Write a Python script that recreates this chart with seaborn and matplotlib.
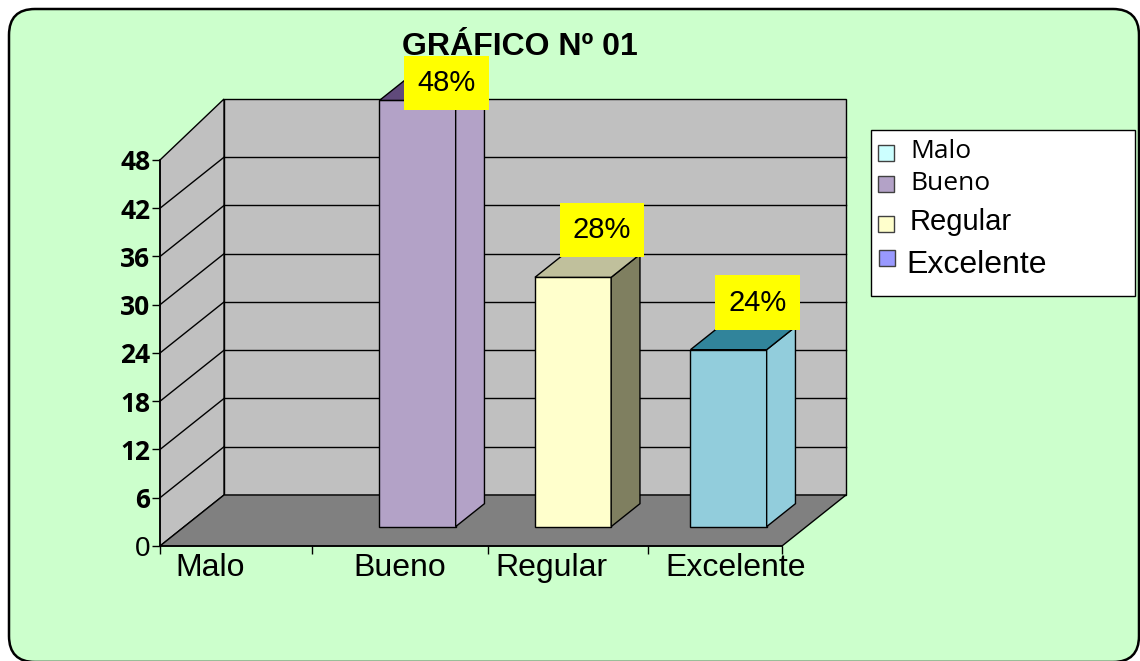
import matplotlib
matplotlib.use("Agg")
import matplotlib.pyplot as plt
import seaborn as sns
import pandas as pd
from matplotlib.patches import Polygon, Rectangle, FancyBboxPatch
from matplotlib.lines import Line2D

# ---------------- data ----------------
categories = ["Malo", "Bueno", "Regular", "Excelente"]
bar_values = [0, 53, 31, 22]          # drawn bar heights (axis units)
percent_labels = ["", "48%", "28%", "24%"]
y_ticks = [0, 6, 12, 18, 24, 30, 36, 42, 48]
legend_labels = ["Malo", "Bueno", "Regular", "Excelente"]
title_text = "GRÁFICO Nº 01"

# ---------------- style ----------------
front_colors = ["#ccffff", "#b3a2c7", "#ffffcc", "#92cddc"]
side_colors = ["#ccffff", "#b3a2c7", "#7f7f60", "#92cddc"]
top_colors = ["#ccffff", "#604a7b", "#c0c09c", "#31849b"]
legend_colors = ["#ccffff", "#b3a2c7", "#ffffcc", "#9999ff"]
legend_fonts = [("Open Sans", 19), ("Open Sans", 19), ("Liberation Sans", 21), ("Liberation Sans", 23)]
legend_baselines_px = [158, 190, 230, 273]
legend_text_x_px = [910, 910, 910, 906]
legend_square_px = [(878, 145), (878, 176), (878, 216), (879, 250)]   # top-left of squares
tick_bounds = [-0.5, 0.48, 1.61, 2.64, 3.5]      # category separator tick marks
label_pos = [-0.18, 1.04, 2.02, 3.2]             # category label centres

plt.rcParams["font.family"] = ["Liberation Sans", "DejaVu Sans"]

W, H = 1140, 661
fig = plt.figure(figsize=(W / 100, H / 100), dpi=100)
fig.patch.set_facecolor("white")

# rounded green background (pixel based, via inches transform)
bg = FancyBboxPatch((9 / 100, (H - 662) / 100), (1139 - 9) / 100, (662 - 9) / 100,
                    boxstyle="round,pad=0,rounding_size=0.26",
                    transform=fig.dpi_scale_trans, facecolor="#ccffcc",
                    edgecolor="black", linewidth=1.8, zorder=-5)
fig.patches.append(bg)

PX_X = 155.5     # px per category unit
PX_Y = 8.042     # px per value unit
ax = fig.add_axes([160 / W, (H - 546) / H, (782 - 160) / W, (546 - 50) / H])
ax.patch.set_alpha(0)

DX = 64 / PX_X       # full depth offset (data units)
DY = 51 / PX_Y
D0 = 0.38            # bar front depth fraction
T = 0.45             # bar thickness fraction
TOP = (546 - 99) / PX_Y   # top of back wall
X0, X1 = -0.5, 3.5

df = pd.DataFrame({"cat": categories, "val": bar_values})
sns.barplot(data=df, x="cat", y="val", hue="cat", palette=front_colors,
            width=0.49, saturation=1, legend=False, ax=ax,
            edgecolor="black", linewidth=1)
bars = list(ax.patches)

ax.set_xlim(X0, X1)
ax.set_ylim(0, (546 - 50) / PX_Y)

# back wall
ax.add_patch(Polygon([(X0 + DX, DY), (X1 + DX, DY), (X1 + DX, TOP), (X0 + DX, TOP)],
                     closed=True, facecolor="#c0c0c0", edgecolor="black", lw=1,
                     zorder=0.5, clip_on=False))
# left wall
ax.add_patch(Polygon([(X0, 0), (X0 + DX, DY), (X0 + DX, TOP), (X0, 48)],
                     closed=True, facecolor="#c0c0c0", edgecolor="black", lw=1,
                     zorder=0.7, clip_on=False))
# gridlines on walls
for v in y_ticks[1:-1]:
    ax.add_line(Line2D([X0 + DX, X1 + DX], [DY + v, DY + v], color="black", lw=1,
                       zorder=0.6, clip_on=False))
    ax.add_line(Line2D([X0, X0 + DX], [v, DY + v], color="black", lw=1,
                       zorder=0.8, clip_on=False))
# floor
ax.add_patch(Polygon([(X0, 0), (X1, 0), (X1 + DX, DY), (X0 + DX, DY)],
                     closed=True, facecolor="#808080", edgecolor="black", lw=1,
                     zorder=0.9, clip_on=False))

# 3D bars
for p in bars:
    h = p.get_height()
    w = p.get_width()
    idx = int(round(p.get_x() + w / 2))
    if h <= 0:
        p.set_visible(False)
        continue
    x0 = p.get_x() + D0 * DX
    y0 = D0 * DY
    x1 = x0 + w
    y1 = y0 + h
    p.set_x(x0)
    p.set_y(y0)
    p.set_zorder(3)
    p.set_clip_on(False)
    ax.add_patch(Polygon([(x1, y0), (x1 + T * DX, y0 + T * DY), (x1 + T * DX, y1 + T * DY), (x1, y1)],
                         closed=True, facecolor=side_colors[idx], edgecolor="black", lw=1,
                         zorder=3, clip_on=False))
    ax.add_patch(Polygon([(x0, y1), (x1, y1), (x1 + T * DX, y1 + T * DY), (x0 + T * DX, y1 + T * DY)],
                         closed=True, facecolor=top_colors[idx], edgecolor="black", lw=1,
                         zorder=3, clip_on=False))
    ly = min(y1 + T * DY + 3.0, 57.6)
    lx = (x0 + x1) / 2 + T * DX
    ax.text(lx, ly, percent_labels[idx], ha="center", va="center", fontsize=21,
            family="Liberation Sans", zorder=6, clip_on=False,
            bbox=dict(boxstyle="square,pad=0.45", facecolor="#ffff00", edgecolor="none"))

# axes / spines
for s in ["top", "right"]:
    ax.spines[s].set_visible(False)
ax.spines["left"].set_bounds(0, 48)
for s in ["left", "bottom"]:
    ax.spines[s].set_color("black")
    ax.spines[s].set_linewidth(1.2)
    ax.spines[s].set_zorder(5)

ax.set_yticks(y_ticks)
ax.set_yticklabels([str(v) for v in y_ticks])
ax.tick_params(axis="y", length=6, width=1, direction="out", pad=1, colors="black")
for t in ax.get_yticklabels():
    if t.get_text() == "0":
        t.set_fontfamily("Liberation Sans")
        t.set_fontsize(20)
    else:
        t.set_fontfamily("Open Sans")
        t.set_fontweight("bold")
        t.set_fontsize(19)

ax.set_xticks(tick_bounds)
ax.set_xticklabels([""] * len(tick_bounds))
ax.set_xticks(label_pos, labels=categories, minor=True)
ax.tick_params(axis="x", which="major", length=6, width=1, direction="out", colors="black")
ax.tick_params(axis="x", which="minor", length=0, pad=5, labelsize=23)
ax.set_xlabel("")
ax.set_ylabel("")

# title
fig.text(519.5 / W, (H - 55) / H, title_text, ha="center", va="baseline",
         fontsize=23, fontweight="bold", family="Liberation Sans")

# legend box and entries
fig.patches.append(Rectangle((871 / W, (H - 296) / H), 264 / W, 166 / H,
                             transform=fig.transFigure, facecolor="white",
                             edgecolor="black", lw=1, zorder=1))
for lab, col, (fam, sz), by, tx, (sx, sy) in zip(legend_labels, legend_colors, legend_fonts,
                                                 legend_baselines_px, legend_text_x_px,
                                                 legend_square_px):
    fig.patches.append(Rectangle((sx / W, (H - sy - 16) / H), 16 / W, 16 / H,
                                 transform=fig.transFigure, facecolor=col,
                                 edgecolor="#404040", lw=1, zorder=2))
    fig.text(tx / W, (H - by) / H, lab, ha="left", va="baseline",
             fontsize=sz, family=fam, zorder=3)

fig.savefig("out.png", dpi=100, facecolor=fig.get_facecolor())
